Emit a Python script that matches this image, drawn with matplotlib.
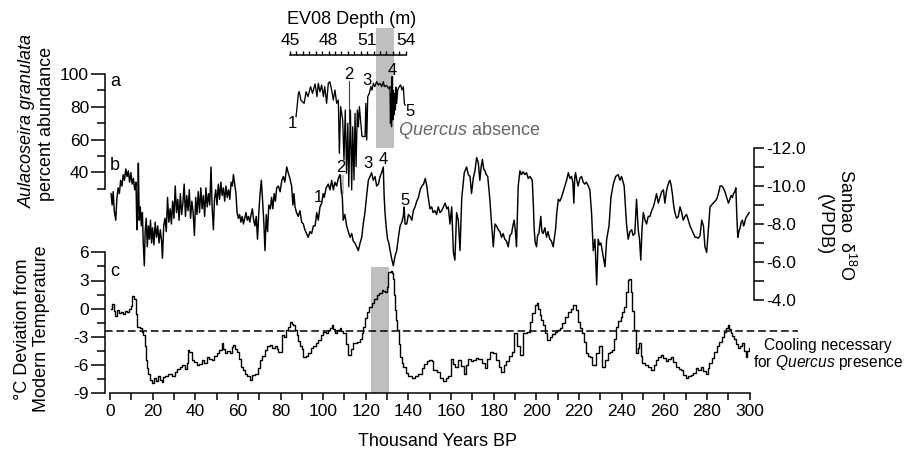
import numpy as np
import matplotlib
matplotlib.use("Agg")
import matplotlib.pyplot as plt
from matplotlib.ticker import FixedLocator, MultipleLocator, FormatStrFormatter

plt.rcParams['font.family'] = ['Liberation Sans', 'DejaVu Sans']
plt.rcParams['mathtext.fontset'] = 'custom'
plt.rcParams['mathtext.rm'] = 'Liberation Sans'
plt.rcParams['mathtext.it'] = 'Liberation Sans:italic'
plt.rcParams['axes.unicode_minus'] = False

# ---------------------------------------------------------------
# (a) EV08 Aulacoseira granulata % vs depth (m)
# ---------------------------------------------------------------
a_depth = [45.47, 45.55, 45.65, 45.72, 45.85, 46.1, 46.25, 46.4, 46.6, 46.75,
           46.95, 47.1, 47.2, 47.33, 47.46, 47.6, 47.7, 47.85, 47.98, 48.1,
           48.24, 48.37, 48.5, 48.63, 48.76, 48.84, 48.94, 49.1, 49.2, 49.3,
           49.4, 49.5, 49.57, 49.7, 49.8, 49.88, 49.98, 50.06, 50.14, 50.24,
           50.32, 50.4, 50.6, 50.84, 50.9, 50.97, 51.05, 51.17, 51.3, 51.38,
           51.49, 51.6, 51.74, 51.87, 52.0, 52.13, 52.26, 52.34, 52.5, 52.7,
           52.78, 52.82, 52.86, 52.9, 52.94, 53.0, 53.05, 53.1, 53.15, 53.2,
           53.25, 53.3, 53.38, 53.5, 53.6, 53.72, 53.82, 53.9, 53.96]
a_pct = [74.0, 80.0, 88.2, 89.2, 84.0, 82.1, 89.2, 86.2, 92.3, 88.2,
         93.9, 86.2, 94.3, 89.2, 93.3, 86.2, 92.3, 82.1, 94.3, 95.3,
         90.2, 84.1, 90.2, 82.1, 84.1, 51.6, 80.1, 71.9, 47.5, 78.0,
         39.4, 69.9, 31.2, 78.0, 29.2, 67.8, 35.3, 76.0, 43.4, 78.0,
         67.8, 80.1, 62.0, 61.7, 82.1, 59.7, 86.2, 88.2, 92.3, 90.2,
         94.3, 92.3, 95.3, 93.3, 94.3, 92.3, 95.3, 92.3, 93.0, 91.0,
         92.3, 70.0, 88.0, 67.8, 98.4, 72.0, 90.0, 75.0, 88.0, 78.0,
         92.0, 82.1, 90.2, 92.3, 93.3, 90.2, 92.3, 82.1, 81.0]
a_band_depth = [51.7, 53.1]
a_band_pct = [54.8, 128.1]
a_marker_depth = 49.6
a_marker_pct = [95.5, 70.0]
a_nums = ['1', '2', '3', '4', '5']
a_num_depth = [45.21, 49.61, 50.97, 52.99, 54.34]
a_num_pct = [69.9, 99.4, 96.3, 102.4, 77.0]

# ---------------------------------------------------------------
# (b) Sanbao d18O vs age (ka)
# ---------------------------------------------------------------
b_age = [0.5, 1.0, 1.5, 2.0, 2.7, 3.2, 3.8, 4.4, 5.0, 5.6, 6.2, 6.8, 7.4, 8.0,
         8.6, 9.2, 9.8, 10.4, 11.0, 11.6, 12.2, 12.6, 13.0, 13.3, 13.7, 14.2,
         14.7, 15.2, 15.6, 16.1, 16.5, 17.0, 17.5, 18.0, 18.5, 19.0, 19.5, 20.0,
         20.6, 21.2, 21.8, 22.4, 23.0, 23.6, 24.2, 24.6, 25.2, 25.8, 26.4, 27.0,
         27.6, 28.2, 28.8, 29.4, 30.0, 30.6, 31.2, 31.8, 32.4, 33.0, 33.6, 34.2,
         34.8, 35.4, 36.0, 36.6, 37.2, 37.8, 38.4, 39.0, 39.6, 40.2, 40.8, 41.4,
         42.0, 42.6, 43.2, 43.8, 44.4, 45.0, 45.6, 46.2, 46.8, 47.4, 47.9, 48.5,
         49.0, 49.6, 50.2, 50.8, 51.4, 52.0, 52.6, 53.2, 53.8, 54.4, 55.0, 55.6,
         56.2, 56.8, 57.4, 57.9, 58.5, 59.1, 59.6, 60.2, 60.8, 61.4, 62.0, 62.6,
         63.2, 63.8, 64.4, 65.0, 65.6, 66.2, 66.8, 67.4, 68.0, 68.6, 69.2, 69.8,
         70.4, 71.0, 71.6, 72.2, 72.7, 73.3, 73.9, 74.5, 75.2, 75.8, 76.4, 77.0,
         77.6, 78.2, 79.0, 79.8, 80.6, 81.3, 82.0, 82.9, 83.6, 84.4, 85.2, 85.8,
         86.3, 86.8, 87.5, 88.3, 89.1, 89.9, 90.7, 91.4, 92.2, 93.0, 93.8, 94.6,
         95.4, 96.2, 97.0, 97.7, 98.5, 99.3, 100.0, 100.5, 101.4, 102.4, 103.2,
         104.0, 104.8, 105.5, 106.3, 107.1, 107.9, 108.5, 109.0, 109.4, 110.2,
         111.0, 111.8, 112.6, 113.4, 114.1, 114.9, 115.7, 116.5, 117.3, 118.1,
         118.8, 119.6, 120.4, 121.2, 122.0, 122.7, 123.5, 124.3, 125.1, 125.9,
         126.7, 127.4, 128.2, 128.6, 129.0, 129.6, 130.2, 130.8, 131.4, 132.1,
         132.9, 133.7, 134.5, 135.3, 136.1, 136.9, 137.6, 138.0, 138.4, 139.2,
         140.0, 140.8, 141.6, 142.3, 143.1, 143.9, 144.7, 145.5, 146.3, 147.1,
         147.9, 148.6, 149.3, 150.1, 150.9, 151.6, 152.4, 153.2, 154.0, 154.8,
         155.6, 156.4, 157.2, 158.0, 158.7, 159.5, 160.3, 161.1, 161.8, 162.6,
         163.4, 164.2, 165.0, 165.6, 166.2, 167.3, 168.1, 168.9, 169.6, 170.4,
         171.2, 172.0, 172.8, 173.5, 174.1, 174.7, 175.3, 175.9, 176.5, 177.2,
         178.2, 179.0, 179.8, 180.6, 181.3, 182.1, 182.9, 183.7, 184.4, 185.2,
         186.0, 186.8, 187.6, 188.4, 189.0, 189.6, 190.2, 190.7, 191.5, 192.3,
         193.0, 193.8, 194.6, 195.4, 196.2, 197.0, 198.1, 198.6, 199.0, 199.5,
         200.1, 200.6, 201.2, 202.1, 202.6, 203.2, 204.0, 204.8, 205.5, 206.3,
         207.1, 207.9, 208.5, 209.0, 209.6, 210.3, 211.0, 211.8, 212.6, 213.4,
         214.2, 215.0, 215.8, 216.5, 217.1, 217.6, 218.0, 218.4, 219.0, 219.6,
         220.4, 221.2, 222.0, 222.7, 223.5, 224.4, 225.1, 225.9, 226.7, 227.5,
         228.3, 229.0, 229.7, 230.3, 230.9, 231.4, 232.2, 233.0, 234.1, 235.0,
         236.1, 237.2, 238.4, 239.2, 240.0, 241.2, 242.3, 243.1, 243.9, 244.7,
         245.4, 246.2, 247.0, 247.8, 248.4, 249.0, 249.6, 250.2, 251.0, 251.7,
         252.5, 253.3, 254.1, 254.9, 255.6, 256.4, 257.2, 258.0, 258.8, 259.6,
         260.3, 261.0, 261.6, 262.2, 262.7, 263.3, 263.8, 264.4, 265.0, 265.8,
         266.6, 267.4, 268.2, 268.9, 269.7, 270.5, 271.3, 272.1, 272.9, 273.7,
         274.5, 275.2, 276.0, 276.8, 277.6, 278.4, 279.1, 279.9, 280.7, 281.5,
         282.2, 283.0, 283.8, 284.6, 285.4, 286.2, 287.0, 287.7, 288.5, 289.3,
         290.1, 290.8, 291.4, 292.0, 292.5, 293.1, 293.6, 294.0, 294.5, 295.0,
         295.6, 296.1, 296.7, 297.2, 297.6, 298.2, 298.7, 299.3, 299.8]
b_d18o = [-9.6, -9.0, -9.7, -8.7, -8.2, -9.3, -9.9, -9.6, -10.3, -10.0, -10.6, -10.3, -10.9, -10.5,
          -10.8, -10.2, -10.7, -10.1, -10.4, -9.8, -10.2, -7.7, -9.0, -11.2, -8.2, -8.9,
          -7.9, -8.6, -7.0, -5.8, -7.6, -8.3, -6.8, -7.9, -7.2, -8.2, -7.0, -7.8,
          -6.9, -8.1, -7.3, -7.9, -7.0, -7.7, -7.1, -6.2, -7.9, -8.3, -7.6, -9.4,
          -8.1, -8.8, -8.0, -9.2, -8.3, -10.0, -8.6, -9.3, -8.2, -9.6, -8.5, -9.1,
          -10.1, -8.4, -9.5, -8.7, -9.8, -8.3, -9.2, -8.6, -7.4, -9.4, -8.5, -9.7,
          -8.6, -9.9, -8.8, -9.5, -8.4, -9.9, -8.9, -9.6, -9.0, -11.0, -8.9, -7.7,
          -9.3, -9.8, -9.0, -10.1, -9.3, -10.2, -9.5, -9.9, -9.2, -10.0, -9.4, -9.8,
          -9.3, -10.2, -10.0, -10.6, -10.1, -9.6, -8.6, -8.3, -8.5, -8.1, -8.4, -8.0,
          -8.3, -8.6, -8.2, -8.4, -8.1, -8.5, -8.8, -8.2, -7.9, -8.4, -7.2, -8.6,
          -9.6, -10.3, -9.2, -8.0, -6.6, -8.5, -7.6, -9.0, -8.8, -9.4, -8.8, -9.6,
          -9.2, -9.9, -10.0, -9.7, -10.3, -10.5, -10.2, -11.0, -10.7, -10.4, -10.0, -9.0,
          -9.6, -8.9, -8.6, -8.4, -8.7, -8.1, -8.0, -7.7, -7.5, -7.3, -7.6, -7.5,
          -7.9, -7.9, -8.6, -8.2, -8.9, -9.1, -9.6, -9.4, -9.9, -10.1, -9.8,
          -10.3, -9.8, -10.2, -10.0, -10.4, -10.6, -9.8, -9.4, -8.2, -8.5,
          -7.9, -7.6, -7.3, -7.5, -7.1, -7.0, -6.8, -6.6, -7.0, -7.3,
          -8.0, -8.6, -9.5, -10.3, -10.5, -10.7, -10.3, -10.5, -10.0, -10.1,
          -10.5, -10.7, -11.0, -9.5, -8.6, -7.8, -7.2, -7.0, -6.6, -6.2,
          -5.8, -6.3, -6.6, -7.3, -7.9, -8.1, -8.4, -8.9, -8.0, -8.0,
          -8.5, -8.4, -8.2, -8.7, -8.9, -9.2, -9.4, -9.8, -10.0, -10.1,
          -10.4, -10.0, -9.4, -8.8, -8.9, -8.6, -8.7, -8.5, -8.9, -8.6,
          -8.7, -8.9, -9.1, -8.8, -8.9, -8.0, -8.9, -6.5, -6.1, -8.6,
          -8.2, -6.6, -9.35, -10.0, -10.7, -11.0, -10.6, -10.5, -9.6, -10.4,
          -10.8, -11.5, -11.2, -10.3, -11.0, -11.4, -10.9, -10.8, -10.6, -10.5,
          -9.3, -8.0, -6.8, -8.0, -7.9, -7.7, -7.6, -7.3, -7.5, -7.2,
          -7.1, -6.8, -7.4, -7.5, -7.9, -8.2, -7.6, -6.8, -10.0, -10.8,
          -10.6, -10.75, -10.6, -10.7, -10.4, -10.5, -10.3, -9.0, -7.7, -7.0,
          -6.8, -7.4, -7.5, -8.4, -7.6, -7.5, -7.8, -7.3, -7.6, -7.2,
          -7.1, -6.8, -7.3, -7.7, -8.6, -9.3, -9.2, -9.4, -9.7, -10.0,
          -10.3, -10.7, -10.4, -10.5, -10.2, -9.1, -10.4, -10.7, -10.3, -10.0,
          -10.4, -10.5, -10.2, -10.1, -10.2, -10.0, -9.8, -8.6, -6.6, -7.2,
          -4.8, -7.2, -6.9, -7.0, -6.6, -6.3, -5.75, -7.2, -7.9, -9.4,
          -10.1, -10.5, -10.6, -10.3, -10.5, -10.0, -8.0, -7.2, -7.6, -7.7,
          -7.4, -7.5, -9.3, -7.7, -7.2, -6.1, -7.8, -8.6, -8.2, -8.0,
          -8.4, -8.4, -8.7, -8.9, -9.2, -9.6, -9.1, -9.4, -9.7, -9.8,
          -9.1, -9.7, -10.0, -10.2, -10.3, -10.0, -9.6, -9.0, -8.6, -8.3,
          -8.4, -8.9, -8.6, -8.2, -8.4, -8.5, -8.2, -7.9, -7.7, -7.5,
          -7.3, -7.3, -7.25, -7.4, -8.2, -7.9, -6.8, -6.5, -7.7, -8.9,
          -9.0, -9.1, -9.2, -9.3, -9.6, -10.0, -10.0, -9.9, -9.7, -9.4,
          -9.1, -9.3, -9.5, -9.4, -9.6, -9.7, -9.9, -8.6, -7.3, -7.6,
          -7.8, -8.1, -8.2, -7.9, -8.0, -8.3, -8.4, -8.5, -8.6]
b_box_age = [108.0, 109.8]
b_box_d18o = [-10.6, -9.6]
b_nums = ['1', '2', '3', '4', '5']
b_num_age = [97.6, 108.2, 121.2, 128.2, 138.4]
b_num_d18o = [-9.42, -11.0, -11.2, -11.37, -9.26]

# ---------------------------------------------------------------
# (c) temperature deviation from modern (deg C) vs age (ka)
# ---------------------------------------------------------------
c_age = [0.3, 1.0, 1.8, 2.5, 3.2, 4.0, 5.0, 6.0, 7.0, 8.0, 9.0, 9.8, 10.5, 11.3,
         12.0, 12.8, 14.0, 15.0, 15.6, 16.2, 16.7, 17.3, 18.0, 18.8, 19.5, 20.5,
         21.5, 22.5, 23.3, 24.2, 25.0, 25.8, 27.0, 28.1, 29.3, 30.5, 31.6, 32.8,
         34.0, 35.0, 36.0, 36.6, 37.2, 38.3, 39.5, 40.6, 41.8, 43.0, 44.2, 45.3,
         46.5, 47.7, 48.8, 50.0, 51.2, 52.4, 53.2, 53.9, 55.1, 56.3, 57.2, 57.8,
         58.8, 59.7, 60.5, 61.3, 62.3, 63.3, 64.5, 65.7, 66.8, 68.0, 69.2, 70.4,
         71.5, 72.7, 73.8, 75.0, 76.2, 77.4, 78.2, 79.0, 80.5, 81.5, 82.6, 83.5,
         84.4, 85.2, 86.0, 86.8, 87.6, 88.4, 89.1, 89.9, 90.7, 91.8, 93.0, 94.2,
         95.4, 96.5, 97.7, 98.8, 100.0, 101.2, 102.4, 103.2, 104.0, 104.8, 105.5,
         106.7, 107.9, 108.6, 109.4, 110.6, 111.8, 113.0, 114.1, 115.7, 117.3,
         118.0, 118.8, 119.6, 120.4, 121.5, 122.7, 123.9, 125.1, 126.2, 127.4,
         128.2, 129.0, 129.8, 130.2, 130.6, 131.6, 132.1, 132.6, 133.2, 133.7,
         134.3, 134.8, 135.4, 136.0, 136.8, 137.6, 138.8, 139.9, 141.5, 143.0,
         144.6, 146.2, 147.4, 148.5, 149.7, 150.9, 151.6, 153.2, 154.8, 156.4,
         157.5, 158.7, 160.0, 161.0, 161.8, 163.4, 164.8, 166.2, 167.2, 168.1,
         169.3, 170.4, 171.6, 172.8, 174.3, 175.9, 177.0, 178.2, 179.8, 181.3,
         182.4, 183.4, 184.7, 186.0, 187.2, 188.4, 189.6, 190.7, 192.3, 193.8,
         195.4, 197.0, 198.2, 199.3, 200.1, 200.9, 201.6, 202.4, 203.2, 204.0,
         204.8, 206.3, 207.5, 208.7, 209.9, 211.0, 212.2, 213.3, 214.9, 216.1,
         217.3, 218.4, 219.6, 220.4, 221.2, 222.3, 223.5, 224.3, 225.1, 226.3,
         227.9, 229.5, 231.0, 232.2, 233.4, 234.6, 235.7, 236.5, 237.3, 238.5,
         239.6, 240.4, 241.2, 242.0, 242.8, 243.6, 244.3, 245.0, 245.6, 246.7,
         247.5, 248.3, 249.0, 249.8, 251.0, 252.2, 253.8, 255.0, 256.1, 257.2,
         258.4, 259.6, 260.8, 262.0, 263.1, 264.3, 265.5, 266.7, 267.8, 269.0,
         270.2, 271.3, 272.5, 273.7, 274.8, 276.0, 277.2, 278.4, 279.5, 280.3,
         281.1, 282.2, 283.4, 284.6, 285.8, 287.0, 288.1, 289.0, 289.7, 290.4,
         291.2, 292.0, 292.8, 293.8, 294.7, 295.7, 296.7, 297.5, 298.3, 299.0,
         299.8]
c_temp = [0.0, 0.5, -0.2, -0.8, -0.1, -0.5, -0.3, -0.6, -0.2, -0.4, 0.0, 0.3, 1.35, 1.0,
          -0.6, -1.9, -2.1, -2.5, -2.8, -4.0, -5.5, -6.3, -6.9, -7.6, -7.9, -7.4,
          -7.7, -7.2, -7.6, -7.8, -7.3, -7.2, -6.9, -6.9, -7.2, -6.7, -6.4, -6.2,
          -6.0, -6.4, -5.8, -4.4, -4.6, -5.5, -5.7, -6.0, -5.9, -5.5, -5.8, -5.1,
          -5.3, -5.5, -5.0, -4.75, -4.4, -3.6, -4.3, -4.75, -4.5, -4.75, -4.1, -3.9,
          -4.3, -4.6, -5.4, -6.2, -6.5, -6.9, -7.2, -7.6, -7.1, -6.9, -6.3, -5.5,
          -5.0, -4.4, -4.0, -3.9, -4.2, -4.0, -4.3, -4.6, -2.8, -3.0, -2.3, -1.9,
          -1.4, -1.6, -1.7, -2.3, -2.8, -3.4, -4.0, -4.3, -5.1, -5.0, -4.75, -4.2,
          -4.0, -3.6, -3.3, -2.8, -2.45, -2.6, -2.3, -2.0, -1.7, -2.2, -2.6,
          -2.3, -2.1, -2.4, -2.6, -3.8, -4.9, -4.3, -3.7, -3.5, -3.2,
          -2.6, -1.9, -1.0, -0.3, 0.2, 0.6, 1.0, 1.45, 1.7, 2.0,
          1.9, 1.8, 2.35, 3.0, 3.9, 4.0, 3.8, 3.2, 1.5, -0.1,
          -1.2, -2.3, -3.8, -5.1, -5.8, -6.2, -6.8, -7.2, -7.4, -7.2,
          -6.9, -6.3, -5.9, -5.6, -5.5, -5.6, -6.5, -6.7, -7.4, -7.7,
          -7.4, -7.2, -5.3, -5.9, -6.2, -5.5, -6.1, -6.9, -6.0, -5.3,
          -5.6, -5.5, -5.2, -5.3, -5.8, -6.3, -5.4, -4.6, -4.75, -5.5,
          -6.2, -6.7, -6.0, -5.6, -5.0, -4.6, -2.6, -4.0, -4.9, -2.6,
          -2.45, -1.4, -0.5, 0.4, 0.57, 0.0, -0.7, -1.2, -1.7, -2.6,
          -3.3, -3.0, -2.7, -2.45, -2.3, -2.1, -1.5, -0.85, -0.3, 0.0,
          0.4, -0.14, -1.4, -2.0, -2.6, -3.5, -4.75, -5.0, -5.1, -6.0,
          -4.75, -4.0, -6.2, -5.5, -4.75, -4.6, -4.4, -3.2, -1.9, -1.3,
          -0.85, -0.4, 0.2, 1.8, 3.05, 3.2, 1.8, -0.2, -2.3, -4.75,
          -4.2, -3.7, -5.0, -5.8, -6.0, -6.2, -6.5, -6.0, -5.5, -5.1,
          -4.9, -5.2, -5.6, -5.3, -5.1, -5.7, -6.2, -6.4, -6.5, -7.0,
          -7.4, -7.2, -7.1, -6.8, -6.3, -6.5, -6.2, -6.6, -6.9, -6.3,
          -5.8, -5.2, -4.6, -4.0, -3.5, -3.0, -2.45, -2.0, -1.7, -2.2,
          -2.6, -2.9, -3.2, -3.8, -4.2, -4.0, -3.7, -4.5, -5.1, -4.5,
          -4.2]
c_band_age = [122.3, 130.9]
c_band_temp = [-9.0, 4.4]
c_threshold = -2.4
c_threshold_span = [-2.3, 322.7]

GRAY = '#bfbfbf'
W, H = 907, 455


def box(top_px, bot_px):
    return [110 / W, 1 - bot_px / H, 639.5 / W, (bot_px - top_px) / H]


def px(x, y):
    return x / W, 1 - y / H


fig = plt.figure(figsize=(9.07, 4.55), dpi=100)
ax_c = fig.add_axes(box(252.3, 393.3))
ax_b = fig.add_axes(box(140, 310))
ax_a = fig.add_axes(box(20, 200))
for ax in (ax_a, ax_b, ax_c):
    ax.patch.set_alpha(0)

# ---- panel c ----
ax_c.set_xlim(0, 300)
ax_c.set_ylim(-9, 6)
ax_c.fill_between(c_band_age, c_band_temp[0], c_band_temp[1], color=GRAY, lw=0, zorder=0)
ax_c.plot(c_age, c_temp, color='k', lw=1.0, drawstyle='steps-post')
ax_c.plot(c_threshold_span, [c_threshold, c_threshold], color='k', lw=1.1,
          dashes=(5, 2.5), clip_on=False)
for s in ('top', 'right'):
    ax_c.spines[s].set_visible(False)
ax_c.spines['left'].set_position(('outward', 3.6))
ax_c.spines['left'].set_bounds(-9, 6)
ax_c.spines['bottom'].set_bounds(0, 300)
for s in ('left', 'bottom'):
    ax_c.spines[s].set_linewidth(1.1)
ax_c.set_yticks([-9, -6, -3, 0, 3, 6])
ax_c.yaxis.set_minor_locator(MultipleLocator(1.5))
ax_c.set_xticks(np.arange(0, 301, 20))
ax_c.xaxis.set_minor_locator(MultipleLocator(10))
ax_c.tick_params(axis='y', which='major', length=10, width=1.1, pad=1.5, labelsize=12.5)
ax_c.tick_params(axis='y', which='minor', length=5.5, width=1.1)
ax_c.tick_params(axis='x', which='both', length=5, width=1.1, pad=3, labelsize=12.5)

# ---- panel b ----
ax_b.set_xlim(0, 300)
ax_b.set_ylim(-3.4737, -12.4211)
ax_b.fill_between(b_box_age, b_box_d18o[0], b_box_d18o[1], color=GRAY, lw=0, zorder=0)
ax_b.plot(b_age, b_d18o, color='k', lw=1.05)
for s in ('top', 'left', 'bottom'):
    ax_b.spines[s].set_visible(False)
ax_b.spines['right'].set_position(('outward', 3.2))
ax_b.spines['right'].set_bounds(-12, -4)
ax_b.spines['right'].set_linewidth(1.1)
ax_b.yaxis.tick_right()
ax_b.set_yticks([-12, -10, -8, -6, -4])
ax_b.yaxis.set_major_formatter(FormatStrFormatter('%.1f'))
ax_b.yaxis.set_minor_locator(MultipleLocator(1))
ax_b.set_xticks([])
ax_b.tick_params(axis='y', which='both', length=7, width=1.1, pad=2, labelsize=12.5)
for t, xv, yv in zip(b_nums, b_num_age, b_num_d18o):
    ax_b.text(xv, yv, t, ha='center', va='center', fontsize=12)

# ---- panel a (depth scale) ----
ax_a.set_xlim(30.99, 80.76)
ax_a.set_ylim(23.08, 132.97)
ax_a.fill_between(a_band_depth, a_band_pct[0], a_band_pct[1], color=GRAY, lw=0, zorder=0)
ax_a.plot([a_marker_depth, a_marker_depth], a_marker_pct, color='#444444', lw=0.8)
ax_a.plot(a_depth, a_pct, color='k', lw=0.95)
for s in ('right', 'bottom'):
    ax_a.spines[s].set_visible(False)
ax_a.spines['left'].set_position(('outward', 3.6))
ax_a.spines['left'].set_bounds(30, 100)
ax_a.spines['top'].set_position(('data', 111.6))
ax_a.spines['top'].set_bounds(45, 54)
for s in ('left', 'top'):
    ax_a.spines[s].set_linewidth(1.1)
ax_a.xaxis.set_ticks_position('top')
ax_a.xaxis.set_major_locator(FixedLocator([45, 48, 51, 54]))
ax_a.xaxis.set_minor_locator(FixedLocator(np.arange(45, 54.01, 0.5)))
ax_a.tick_params(axis='x', which='both', direction='out', length=3, width=1.0,
                 pad=2, labelsize=12.5)
ax_a.set_yticks([40, 60, 80, 100])
ax_a.yaxis.set_minor_locator(FixedLocator([30, 50, 70, 90]))
ax_a.tick_params(axis='y', which='major', length=10, width=1.1, pad=1.5, labelsize=12.5)
ax_a.tick_params(axis='y', which='minor', length=5.5, width=1.1)
for t, xv, yv in zip(a_nums, a_num_depth, a_num_pct):
    ax_a.text(xv, yv, t, ha='center', va='center', fontsize=12)
ax_a.text(53.4, 65.8, r'$\mathit{Quercus}$ absence', ha='left', va='center',
          fontsize=13, color='#666666')

# ---- labels ----
fig.text(*px(352, 20), 'EV08 Depth (m)', ha='center', va='center', fontsize=13)
fig.text(*px(27, 121), 'Aulacoseira granulata', ha='center', va='center',
         rotation=90, fontsize=13, style='italic')
fig.text(*px(47, 124), 'percent abundance', ha='center', va='center',
         rotation=90, fontsize=13)
fig.text(*px(32, 329), '\u00b0C Deviation from\nModern Temperature', ha='center',
         va='center', rotation=90, fontsize=13, linespacing=1.1)
fig.text(*px(836, 225), 'Sanbao  \u03b4$^{18}$O\n(VPDB)', ha='center', va='center',
         rotation=-90, fontsize=13, multialignment='center')
fig.text(*px(438, 442), 'Thousand Years BP', ha='center', va='center', fontsize=13)
fig.text(*px(828, 355), 'Cooling necessary\nfor $\\mathit{Quercus}$ presence',
         ha='center', va='center', fontsize=11.2, linespacing=1.05,
         multialignment='center')
for lab, (x, y) in zip(['a', 'b', 'c'], [(115, 82), (115, 165), (115, 272)]):
    fig.text(*px(x, y), lab, ha='center', va='center', fontsize=13)

fig.savefig('out.png', dpi=100)
